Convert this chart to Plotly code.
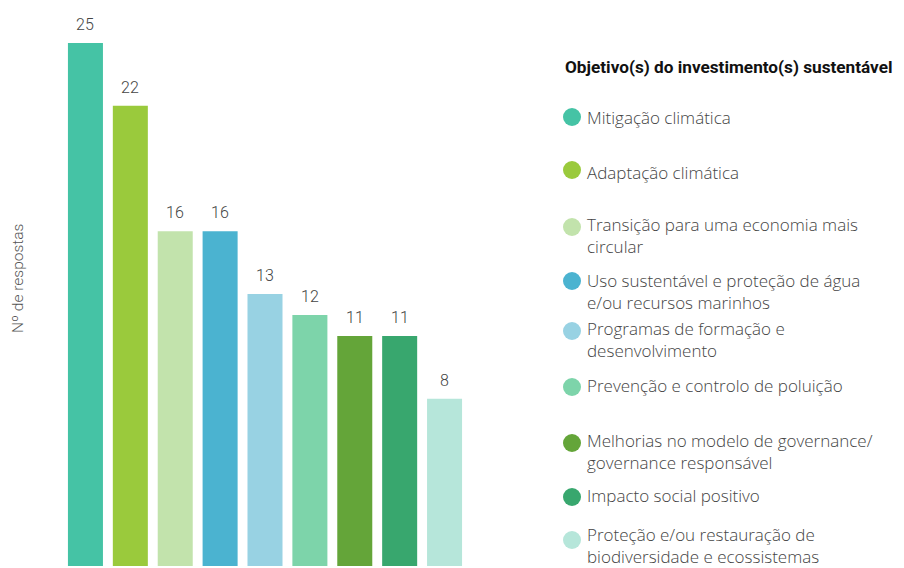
import plotly.graph_objects as go

categories = [
    "Mitigação climática",
    "Adaptação climática",
    "Transição para uma economia mais circular",
    "Uso sustentável e proteção de água e/ou recursos marinhos",
    "Programas de formação e desenvolvimento",
    "Prevenção e controlo de poluição",
    "Melhorias no modelo de governance/ governance responsável",
    "Impacto social positivo",
    "Proteção e/ou restauração de biodiversidade e ecossistemas",
]
values = [25, 22, 16, 16, 13, 12, 11, 11, 8]
colors = ["#45C3A5", "#9ACA3C", "#C2E3AC", "#4BB3D0", "#98D2E3",
          "#7DD4AA", "#64A539", "#38A76E", "#B6E6DA"]
legend_lines = [
    ["Mitigação climática"],
    ["Adaptação climática"],
    ["Transição para uma economia mais", "circular"],
    ["Uso sustentável e proteção de água", "e/ou recursos marinhos"],
    ["Programas de formação e", "desenvolvimento"],
    ["Prevenção e controlo de poluição"],
    ["Melhorias no modelo de governance/", "governance responsável"],
    ["Impacto social positivo"],
    ["Proteção e/ou restauração de", "biodiversidade e ecossistemas"],
]
legend_title = "Objetivo(s) do investimento(s) sustentável"
y_title = "Nº de respostas"

# page body has an 8px margin; work in page pixel coords and convert
OFF = 8
W, H = 904 - OFF, 568 - OFF
PLOT_LEFT, PLOT_RIGHT, BASE = 63, 467, 566   # page coords
ML = PLOT_LEFT - OFF
MR = W - (PLOT_RIGHT - OFF)
MT = 0
MB = H - (BASE - OFF)
PW = W - ML - MR
PH = H - MT - MB

def px(x):
    return (x - OFF - ML) / PW

def py(y):
    return (BASE - y) / PH

fig = go.Figure()
fig.add_trace(go.Bar(
    x=categories, y=values, marker=dict(color=colors, line=dict(width=0)),
    hoverinfo="skip", showlegend=False,
))

annotations = []
for c, v in zip(categories, values):
    annotations.append(dict(
        x=c, y=v, xref="x", yref="y", text=str(v), showarrow=False,
        yanchor="bottom", yshift=7,
        font=dict(family="Roboto", size=16, color="#444444", weight=300),
    ))

annotations.append(dict(
    x=px(18), y=py(279), xref="paper", yref="paper", text=y_title,
    textangle=-90, showarrow=False, xanchor="center", yanchor="middle",
    font=dict(family="Roboto", size=15.5, color="#555555", weight=300),
))

annotations.append(dict(
    x=px(563), y=py(67), xref="paper", yref="paper", text="<b>" + legend_title + "</b>",
    showarrow=False, xanchor="left", yanchor="middle",
    font=dict(family="Roboto", size=17.2, color="#111111"),
))

circle_y = [117, 170, 227, 281, 331, 387, 443, 497, 540]
text_mid = [117, 172, 236, 291, 339, 385, 451, 495, 545]
shapes = []
for i, (lines, col) in enumerate(zip(legend_lines, colors)):
    cy = circle_y[i]
    shapes.append(dict(
        type="circle", xref="paper", yref="paper",
        x0=px(563), x1=px(581), y0=py(cy + 9), y1=py(cy - 9),
        fillcolor=col, line=dict(width=0),
    ))
    annotations.append(dict(
        x=px(586), y=py(text_mid[i]), xref="paper", yref="paper",
        text="<br>".join(lines), showarrow=False, xanchor="left",
        yanchor="middle", align="left", borderpad=0,
        font=dict(family="Open Sans", size=17, color="#444444", weight=300),
    ))

fig.update_layout(
    width=W, height=H,
    margin=dict(l=ML, r=MR, t=MT, b=MB, pad=0),
    paper_bgcolor="white", plot_bgcolor="white",
    bargap=0.22,
    xaxis=dict(visible=False, range=[-0.5, len(categories) - 0.5]),
    yaxis=dict(visible=False, range=[0, PH / (523 / 25)]),
    annotations=annotations, shapes=shapes,
    showlegend=False,
)

fig.write_html("out.html")
